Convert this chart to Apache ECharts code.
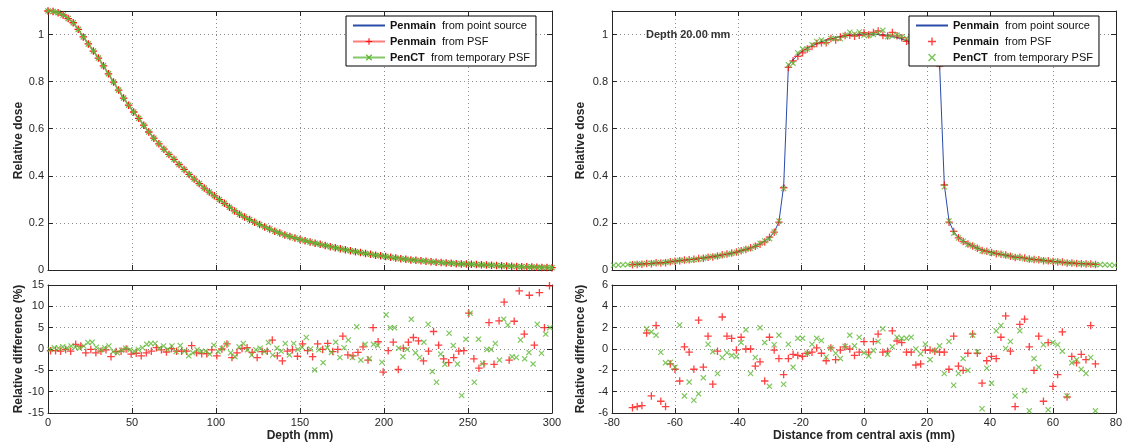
<!DOCTYPE html>
<html><head><meta charset="utf-8">
<script src="https://cdn.jsdelivr.net/npm/echarts@6/dist/echarts.min.js"></script>
<style>html,body{margin:0;padding:0;background:#fff}#c{width:1125px;height:448px}</style>
</head><body><div id="c"></div>
<script>
// ---------- data ----------
const depthTop = [0,3,6,9,12,15,18,21,24,27,30,33,36,39,42,45,48,51,54,57,60,63,66,69,72,75,78,81,84,87,90,93,96,99,102,105,108,111,114,117,120,123,126,129,132,135,138,141,144,147,150,153,156,159,162,165,168,171,174,177,180,183,186,189,192,195,198,201,204,207,210,213,216,219,222,225,228,231,234,237,240,243,246,249,252,255,258,261,264,267,270,273,276,279,282,285,288,291,294,297,300];
const doseTop = [1.100,1.098,1.093,1.083,1.068,1.050,1.022,0.990,0.960,0.930,
0.900,0.867,0.833,0.798,0.764,0.730,0.700,0.671,0.644,0.615,
0.586,0.560,0.536,0.513,0.491,0.470,0.448,0.427,0.406,0.386,
0.367,0.348,0.331,0.315,0.299,0.283,0.267,0.251,0.237,0.225,
0.214,0.203,0.193,0.183,0.174,0.165,0.157,0.149,0.142,0.136,
0.130,0.124,0.119,0.114,0.109,0.104,0.099,0.095,0.090,0.086,
0.082,0.078,0.074,0.070,0.067,0.063,0.060,0.057,0.054,0.051,
0.048,0.046,0.043,0.041,0.039,0.037,0.035,0.033,0.032,0.030,
0.029,0.027,0.026,0.025,0.024,0.023,0.022,0.021,0.020,0.019,
0.018,0.017,0.016,0.015,0.014,0.014,0.013,0.012,0.011,0.011,
0.010];
const depthRed = [1.5,4.5,7.5,10.5,13.5,16.5,19.5,22.5,25.5,28.5,31.5,34.5,37.5,40.5,43.5,46.5,49.5,52.5,55.5,58.5,61.5,64.5,67.5,70.5,73.5,76.5,79.5,82.5,85.5,88.5,91.5,94.5,97.5,100.5,103.5,106.5,109.5,112.5,115.5,118.5,121.5,124.5,127.5,130.5,133.5,136.5,139.5,142.5,145.5,148.5,151.5,154.5,157.5,160.5,163.5,166.5,169.5,172.5,175.5,178.5,181.5,184.5,187.5,190.5,193.5,196.5,199.5,202.5,205.5,208.5,211.5,214.5,217.5,220.5,223.5,226.5,229.5,232.5,235.5,238.5,241.5,244.5,247.5,250.5,253.5,256.5,259.5,262.5,265.5,268.5,271.5,274.5,277.5,280.5,283.5,286.5,289.5,292.5,295.5,298.5];
const diffDepthRed = [-0.4,-0.4,-0.5,-0.1,-0.5,1.1,0.7,-0.9,-0.1,-0.9,
-0.5,-0.2,-1.8,-0.6,-0.5,0,-1.2,-1.0,-1.6,-0.9,
-0.5,0.3,-0.2,-0.7,0.1,-0.5,-0.5,-0.5,0.8,-0.9,
-1.1,-1.1,-0.2,-1.6,0,1.2,-2.0,-0.9,0.1,0.3,
-0.8,-2.0,-0.6,-0.5,2.1,-1.6,-2.8,-0.5,-0.2,-1.7,
1.2,-0.4,-1.8,1.2,-0.1,1.3,-0.6,-0.1,3.0,-1.4,
-1.6,-0.8,0.5,-2.6,5.0,1.7,-5.4,-0.4,1.6,-4.8,
0.2,1.6,2.7,1.9,-2.8,-0.5,4.1,0.9,-2.3,-3.2,
-2.0,-0.5,-0.4,8.4,-2.3,-4.5,-3.5,6.2,-3.6,6.6,
11.0,-2.6,6.5,13.6,3.5,12.6,0.9,13.2,5.0,14.8];
const depthGreen = [1.25,3.75,6.25,8.75,11.25,13.75,16.25,18.75,21.25,23.75,26.25,28.75,31.25,33.75,36.25,38.75,41.25,43.75,46.25,48.75,51.25,53.75,56.25,58.75,61.25,63.75,66.25,68.75,71.25,73.75,76.25,78.75,81.25,83.75,86.25,88.75,91.25,93.75,96.25,98.75,101.25,103.75,106.25,108.75,111.25,113.75,116.25,118.75,121.25,123.75,126.25,128.75,131.25,133.75,136.25,138.75,141.25,143.75,146.25,148.75,151.25,153.75,156.25,158.75,161.25,163.75,166.25,168.75,171.25,173.75,176.25,178.75,181.25,183.75,186.25,188.75,191.25,193.75,196.25,198.75,201.25,203.75,206.25,208.75,211.25,213.75,216.25,218.75,221.25,223.75,226.25,228.75,231.25,233.75,236.25,238.75,241.25,243.75,246.25,248.75,251.25,253.75,256.25,258.75,261.25,263.75,266.25,268.75,271.25,273.75,276.25,278.75,281.25,283.75,286.25,288.75,291.25,293.75,296.25,298.75];
const diffDepthGreen = [-0.1,0.3,0.2,0.5,0.2,0.7,0.4,0.2,0.7,1.5,
1.6,0.4,-0.2,0.3,0.7,-0.6,-0.9,-0.3,0.2,-0.2,
-0.5,-0.1,0.3,1.1,1.3,1.3,0.2,0.7,-0.1,0.7,
-0.6,0.8,-0.5,-1.6,-0.9,-0.2,-0.6,-0.5,-1.2,0.9,
-0.6,0.1,1.2,-0.9,-1.8,0.5,1.3,-0.2,-1.4,-0.2,
0.2,-0.6,1.5,-1.4,0.2,-0.5,1.3,-1.4,1.3,-0.1,
0.4,2.7,0,-4.9,-0.2,-3.2,0.3,-0.8,1.6,-2.0,
0.3,2.1,-2.0,5.2,-2.6,1.1,-2.3,1.1,0.8,-3.1,
8.0,5.0,5.0,0.2,-1.8,-0.1,7.0,-0.9,-2.0,1.6,
5.8,-5.3,-7.8,-1.2,-3.6,3.7,0.8,-3.5,-10.9,2.3,
8.4,-7.8,2.3,-3.4,-0.1,-0.1,1.3,-2.6,7.0,5.6,
-1.8,-2.0,2.1,-2.3,-0.8,-3.5,5.8,-1.0,3.5,5.0];
const profX = [-79.5,-78,-76.5,-75,-73.5,-72,-70.5,-69,-67.5,-66,-64.5,-63,-61.5,-60,-58.5,-57,-55.5,-54,-52.5,-51,-49.5,-48,-46.5,-45,-43.5,-42,-40.5,-39,-37.5,-36,-34.5,-33,-31.5,-30,-28.5,-27,-25.5,-24,-22.5,-21,-19.5,-18,-16.5,-15,-13.5,-12,-10.5,-9,-7.5,-6,-4.5,-3,-1.5,0,1.5,3,4.5,6,7.5,9,10.5,12,13.5,15,16.5,18,19.5,21,22.5,24,25.5,27,28.5,30,31.5,33,34.5,36,37.5,39,40.5,42,43.5,45,46.5,48,49.5,51,52.5,54,55.5,57,58.5,60,61.5,63,64.5,66,67.5,69,70.5,72,73.5,75,76.5,78,79.5];
const profDose = [0.020,0.021,0.022,0.023,0.024,0.025,0.026,0.027,0.028,0.030,
0.031,0.033,0.035,0.038,0.040,0.042,0.044,0.046,0.048,0.051,
0.054,0.057,0.060,0.063,0.067,0.071,0.076,0.081,0.087,0.094,
0.102,0.111,0.123,0.138,0.161,0.205,0.358,0.868,0.893,0.913,
0.929,0.942,0.952,0.961,0.969,0.976,0.982,0.987,0.991,0.994,
0.997,0.999,1.000,1.001,1.002,1.002,1.001,0.999,0.996,0.992,
0.987,0.981,0.974,0.966,0.957,0.946,0.933,0.917,0.896,0.870,
0.362,0.207,0.162,0.139,0.123,0.111,0.101,0.093,0.086,0.080,
0.075,0.070,0.066,0.062,0.059,0.056,0.053,0.050,0.047,0.045,
0.043,0.041,0.039,0.037,0.035,0.033,0.031,0.030,0.028,0.027,
0.026,0.025,0.024,0.023,0.022,0.021,0.020];
const profRedDiff = [null,null,null,null,
-5.5,-5.4,-5.3,1.5,-4.4,2.2,-4.9,-5.4,-1.4,-1.9,-3.0,0.2,-0.3,-1.9,2.7,-1.7,1.2,-3.3,-0.2,3.0,1.2,1.0,-0.1,1.1,0,0,
-1.6,-1.2,-3.0,1.1,-0.1,-0.9,-2.4,-0.9,-0.5,-0.6,-0.7,-0.4,-0.3,0.1,-0.4,-1.1,0.1,-1.0,-0.1,0.2,0,-0.6,-0.3,0.7,
-0.3,0.7,1.4,-0.3,-0.2,1.7,0.75,0.6,-0.3,-0.3,-1.5,-1.4,-0.1,-0.1,-0.2,-0.3,-0.3,-1.9,1.2,-1.6,-2.0,-0.4,1.4,-0.4,
-3.2,-1.1,-0.7,-0.9,1.1,3.1,-0.2,-5.4,2.3,2.8,0.2,-2.0,1.2,-4.9,0.6,-3.5,-2.4,1.6,-4.5,-0.7,-1.3,-0.5,-1.0,2.2,-1.4,
null,null,null,null];
const profGreenDiff = [null,null,null,null,null,null,null,
1.9,1.6,1.3,-0.3,-1.3,-1.25,-1.7,2.25,-4.4,-3.1,-4.8,-4.2,-2.7,0.45,-0.25,-2.3,-0.8,-0.35,-0.6,-0.7,0.6,1.8,-2.3,
-0.8,2.0,0.6,-3.5,0.4,1.3,-3.3,0.45,-1.7,1.0,1.0,-0.4,0.45,1.0,0.8,-0.75,0.1,-0.4,-0.9,0.25,1.3,0.3,1.1,
-0.35,-0.65,-0.15,0.7,1.9,-0.5,0.2,1.1,1.0,1.0,1.1,0,-0.45,0.45,-1.0,-0.15,0.3,-2.3,0.7,-3.4,-2.3,-0.9,-2.0,1.3,
-0.25,-5.6,-1.8,-3.2,1.7,2.2,0.05,0.7,-4.4,1.7,-3.9,-5.8,-0.9,-1.7,0.4,-5.7,0.6,0.4,-0.2,-4.4,-1.3,-1.0,-1.9,-2.3,-0.8,-5.8,
null,null,null,null];
const depthTicks = {min:0, max:300, interval:50};
const distTicks = {min:-80, max:80, interval:20};
const legendBold = ['Penmain','Penmain','PenCT'];
const legendRest = ['from point source','from PSF','from temporary PSF'];
const annotation = 'Depth 20.00 mm';

// ---------- style ----------
const FONT = '"Liberation Sans", Arial, Helvetica, sans-serif';
const AX = '#262626';
const BLUE = '#2a4caa', RED = '#ff1010', GREEN = '#5cb832';
const PLUS = 'path://M3.1,0H4.4V3.1H7.5V4.4H4.4V7.5H3.1V4.4H0V3.1H3.1Z';
const CROSS = 'path://M0,1.1L1.1,0L4,2.9L6.9,0L8,1.1L5.1,4L8,6.9L6.9,8L4,5.1L1.1,8L0,6.9L2.9,4Z';

function xAxes(grid, t, showLabels, name) {
  const base = {type:'value', gridIndex:grid, min:t.min, max:t.max, interval:t.interval,
    axisLine:{show:true, onZero:false, lineStyle:{color:AX, width:1}},
    axisTick:{show:true, inside:true, length:5, lineStyle:{color:AX}}};
  return [
    Object.assign({}, base, {position:'bottom',
      axisLabel:{show:showLabels, color:AX, fontSize:11, fontFamily:FONT, margin:4},
      splitLine:{show:true, lineStyle:{color:'#8a8a8a', type:[1,3], width:1}},
      name:name||'', nameLocation:'middle', nameGap:17,
      nameTextStyle:{fontFamily:FONT, fontSize:12, fontWeight:'bold', color:AX}}),
    Object.assign({}, base, {position:'top', axisLabel:{show:false}, splitLine:{show:false}})
  ];
}
function yAxes(grid, t, name, gap, hideMax) {
  const base = {type:'value', gridIndex:grid, min:t.min, max:t.max, interval:t.interval,
    axisLine:{show:true, onZero:false, lineStyle:{color:AX, width:1}},
    axisTick:{show:true, inside:true, length:5, lineStyle:{color:AX}}};
  return [
    Object.assign({}, base, {position:'left',
      axisLabel:{show:true, color:AX, fontSize:11, fontFamily:FONT, margin:4, showMaxLabel:!hideMax},
      splitLine:{show:true, lineStyle:{color:'#8a8a8a', type:[1,3], width:1}},
      name:name, nameLocation:'middle', nameGap:gap,
      nameTextStyle:{fontFamily:FONT, fontSize:12, fontWeight:'bold', color:AX}}),
    Object.assign({}, base, {position:'right', axisLabel:{show:false}, splitLine:{show:false}})
  ];
}
const doseTicks = {min:0, max:1.1, interval:0.2};
const diffLTicks = {min:-15, max:15, interval:5};
const diffRTicks = {min:-6, max:6, interval:2};

const pairs = (xs, ys) => xs.map((x,i)=>[x, ys[i]]).filter(p=>p[1]!==null && p[1]!==undefined);
const profRedTop = profX.map((x,i)=> profRedDiff[i]===null ? null : profDose[i]*(1+profRedDiff[i]/100));
const profGreenTop = profX.map((x,i)=> profGreenDiff[i]===null ? profDose[i] : profDose[i]*(1+profGreenDiff[i]/100));
const profBlue = profX.map((x,i)=> profRedDiff[i]===null ? null : profDose[i]);

function legendText(n){ const i = +n[1]; return '{b|' + legendBold[i] + '}  ' + legendRest[i]; }
function legendAt(left, data) {
  return {left:left, top:16, orient:'vertical', data:data, formatter:legendText,
    itemWidth:32, itemHeight:8, itemGap:5, padding:[4,6,3,6],
    borderColor:'#000', borderWidth:1, backgroundColor:'#fff', selectedMode:false, z:10,
    textStyle:{fontFamily:FONT, fontSize:11, color:'#111',
      rich:{b:{fontFamily:FONT, fontSize:11, fontWeight:'bold', color:'#111'}}}};
}

const chart = echarts.init(document.getElementById('c'), null, {renderer:'canvas'});
chart.setOption({
  animation:false,
  backgroundColor:'#fff',
  grid:[
    {left:48, top:11, width:504, height:259},
    {left:612, top:11, width:504, height:259},
    {left:48, top:285, width:504, height:128},
    {left:612, top:285, width:504, height:128}
  ],
  xAxis:[].concat(
    xAxes(0, depthTicks, false),
    xAxes(1, distTicks, false),
    xAxes(2, depthTicks, true, 'Depth (mm)'),
    xAxes(3, distTicks, true, 'Distance from central axis (mm)')),
  yAxis:[].concat(
    yAxes(0, doseTicks, 'Relative dose', 23, true),
    yAxes(1, doseTicks, 'Relative dose', 25, true),
    yAxes(2, diffLTicks, 'Relative difference (%)', 23, false),
    yAxes(3, diffRTicks, 'Relative difference (%)', 25, false)),
  legend:[
    legendAt(346, [{name:'L0', itemStyle:{color:'rgba(0,0,0,0)'}}, 'L1', 'L2']),
    legendAt(909, [{name:'R0', itemStyle:{color:'rgba(0,0,0,0)'}}, 'R1', 'R2'])
  ],
  graphic:[{type:'text', left:646, top:29, z:20,
    style:{text:annotation, font:'bold 11px ' + FONT, fill:'#333'}}],
  series:[
    {name:'L0', type:'line', xAxisIndex:0, yAxisIndex:0, data:pairs(depthTop, doseTop),
      symbol:'circle', symbolSize:2, lineStyle:{color:BLUE, width:1}, itemStyle:{color:BLUE}, z:2},
    {name:'L1', type:'line', xAxisIndex:0, yAxisIndex:0, data:pairs(depthTop, doseTop),
      symbol:PLUS, symbolSize:7.5, lineStyle:{color:'rgba(255,70,70,0.7)', width:1.5}, itemStyle:{color:RED}, z:3},
    {name:'L2', type:'line', xAxisIndex:0, yAxisIndex:0, data:pairs(depthTop, doseTop),
      symbol:CROSS, symbolSize:6, lineStyle:{color:'rgba(110,190,80,0.85)', width:1.5}, itemStyle:{color:GREEN}, z:4},

    {name:'R0', type:'line', xAxisIndex:2, yAxisIndex:2, data:pairs(profX, profBlue),
      symbol:'circle', symbolSize:2, lineStyle:{color:BLUE, width:1}, itemStyle:{color:BLUE}, z:2},
    {name:'R1', type:'scatter', xAxisIndex:2, yAxisIndex:2, data:pairs(profX, profRedTop),
      symbol:PLUS, symbolSize:7.5, itemStyle:{color:RED}, z:3},
    {name:'R2', type:'scatter', xAxisIndex:2, yAxisIndex:2, data:pairs(profX, profGreenTop),
      symbol:CROSS, symbolSize:6, itemStyle:{color:GREEN}, z:4},

    {name:'dL1', type:'scatter', xAxisIndex:4, yAxisIndex:4, data:pairs(depthRed, diffDepthRed),
      symbol:PLUS, symbolSize:7.5, itemStyle:{color:RED}, z:3},
    {name:'dL2', type:'scatter', xAxisIndex:4, yAxisIndex:4, data:pairs(depthGreen, diffDepthGreen),
      symbol:CROSS, symbolSize:6, itemStyle:{color:GREEN}, z:4},
    {name:'dR1', type:'scatter', xAxisIndex:6, yAxisIndex:6, data:pairs(profX, profRedDiff),
      symbol:PLUS, symbolSize:7.5, itemStyle:{color:RED}, z:3},
    {name:'dR2', type:'scatter', xAxisIndex:6, yAxisIndex:6, data:pairs(profX, profGreenDiff),
      symbol:CROSS, symbolSize:6, itemStyle:{color:GREEN}, z:4}
  ]
});
</script></body></html>
